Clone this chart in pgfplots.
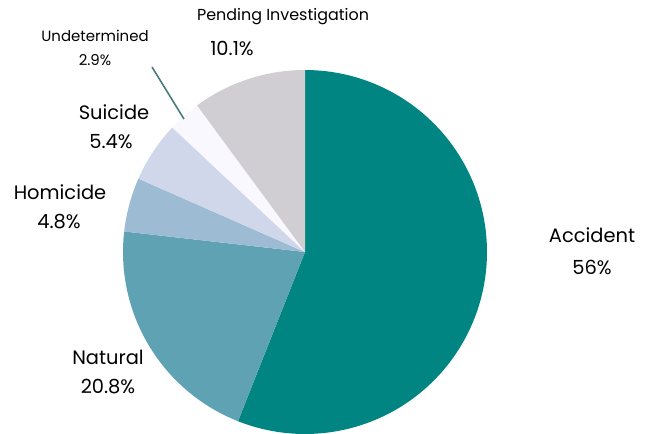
\documentclass[border=0pt]{standalone}
\usepackage{pgfplots}
\pgfplotsset{compat=1.18}
\usepackage{fontspec}
\setmainfont{Poppins}
\definecolor{cAcc}{HTML}{008583}
\definecolor{cNat}{HTML}{5FA2B3}
\definecolor{cHom}{HTML}{9DBCD3}
\definecolor{cSui}{HTML}{D1D7EA}
\definecolor{cUnd}{HTML}{F9F8FE}
\definecolor{cPen}{HTML}{D0CED2}
\definecolor{cLead}{HTML}{4A7A7A}
\newcommand{\bigf}{\fontsize{19.5}{22}\selectfont}
\newcommand{\smallf}{\fontsize{15}{17}\selectfont}
\newcommand{\penf}{\fontsize{16}{18}\selectfont}
% shares in percent: Accident 56, Natural 20.8, Homicide 4.8, Suicide 5.4, Undetermined 2.9, Pending 10.1
% slices run clockwise from the top (90 deg); angle = 3.6 * percent
\begin{document}
\begin{tikzpicture}
\begin{axis}[
  scale only axis, width=655bp, height=434bp,
  xmin=0, xmax=655, ymin=0, ymax=434,
  hide axis, clip=false,
]
\addplot[draw=none, forget plot] coordinates {(0,0) (655,434)};
\addplot[fill=cAcc, draw=none, domain=-111.6:90, samples=120, variable=\t]
  ({305+182*cos(t)}, {182+182*sin(t)}) -- (axis cs:305,182) -- cycle;
\addplot[fill=cNat, draw=none, domain=-186.48:-111.6, samples=60, variable=\t]
  ({305+182*cos(t)}, {182+182*sin(t)}) -- (axis cs:305,182) -- cycle;
\addplot[fill=cHom, draw=none, domain=-203.76:-186.48, samples=20, variable=\t]
  ({305+182*cos(t)}, {182+182*sin(t)}) -- (axis cs:305,182) -- cycle;
\addplot[fill=cSui, draw=none, domain=-223.2:-203.76, samples=20, variable=\t]
  ({305+182*cos(t)}, {182+182*sin(t)}) -- (axis cs:305,182) -- cycle;
\addplot[fill=cUnd, draw=none, domain=-233.64:-223.2, samples=15, variable=\t]
  ({305+182*cos(t)}, {182+182*sin(t)}) -- (axis cs:305,182) -- cycle;
\addplot[fill=cPen, draw=none, domain=-270:-233.64, samples=40, variable=\t]
  ({305+182*cos(t)}, {182+182*sin(t)}) -- (axis cs:305,182) -- cycle;
\addplot[cLead, line width=1.6pt] coordinates {(152,367) (184,315)};

\node[font=\bigf] at (axis cs:592,199) {Accident};
\node[font=\bigf] at (axis cs:592,167) {56\%};
\node[font=\bigf] at (axis cs:108,77) {Natural};
\node[font=\bigf] at (axis cs:108,47) {20.8\%};
\node[font=\bigf] at (axis cs:60,242) {Homicide};
\node[font=\bigf] at (axis cs:59,212) {4.8\%};
\node[font=\bigf] at (axis cs:114,322) {Suicide};
\node[font=\bigf] at (axis cs:111,292) {5.4\%};
\node[font=\smallf] at (axis cs:95,398) {Undetermined};
\node[font=\smallf] at (axis cs:95,374) {2.9\%};
\node[font=\penf] at (axis cs:283,417) {Pending Investigation};
\node[font=\bigf] at (axis cs:232,386) {10.1\%};
\end{axis}
\end{tikzpicture}
\end{document}
